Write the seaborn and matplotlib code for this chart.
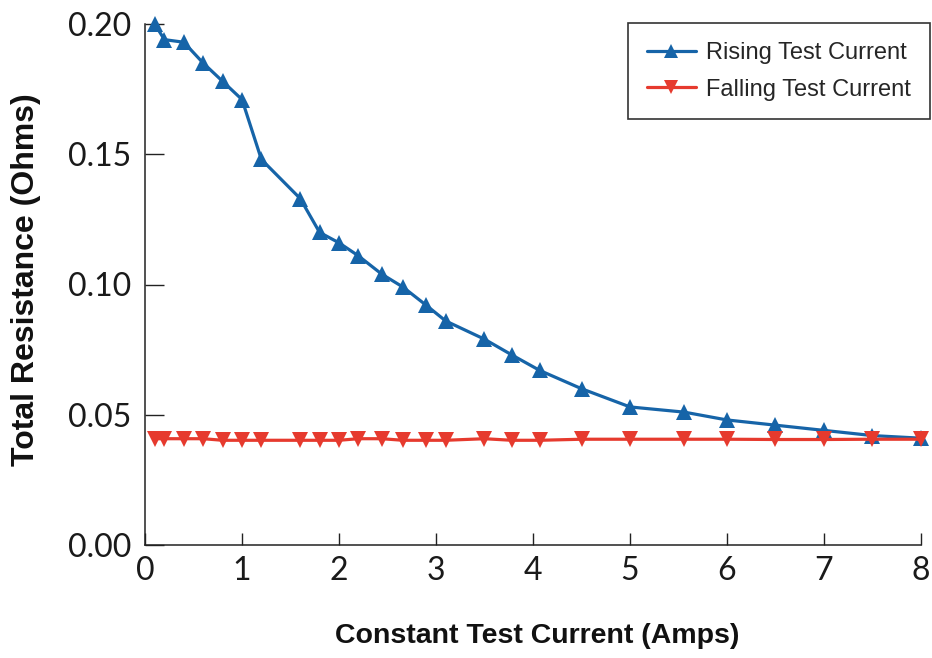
import matplotlib
matplotlib.use("Agg")
import matplotlib.pyplot as plt
import seaborn as sns
import pandas as pd
from matplotlib.lines import Line2D

# ---- data ----
rising_x = [0.1, 0.2, 0.4, 0.6, 0.8, 1.0, 1.2, 1.6, 1.8, 2.0, 2.2, 2.44, 2.66, 2.9, 3.1,
            3.5, 3.78, 4.07, 4.5, 5.0, 5.56, 6.0, 6.5, 7.0, 7.5, 8.0]
rising_y = [0.200, 0.194, 0.193, 0.185, 0.178, 0.171, 0.148, 0.133, 0.120, 0.116, 0.111,
            0.104, 0.099, 0.092, 0.086, 0.079, 0.073, 0.067, 0.060, 0.053, 0.051, 0.048,
            0.046, 0.044, 0.042, 0.041]
falling_x = [0.1, 0.2, 0.4, 0.6, 0.8, 1.0, 1.2, 1.6, 1.8, 2.0, 2.2, 2.44, 2.66, 2.9, 3.1,
             3.5, 3.78, 4.07, 4.5, 5.0, 5.56, 6.0, 6.5, 7.0, 7.5, 8.0]
falling_y = [0.0408, 0.0408, 0.0408, 0.0408, 0.0402, 0.0402, 0.0402, 0.0402, 0.0402, 0.0402,
             0.0408, 0.0408, 0.0402, 0.0402, 0.0402, 0.0408, 0.0402, 0.0402, 0.0406, 0.0406,
             0.0406, 0.0406, 0.0405, 0.0405, 0.0406, 0.0406]
series_names = ["Rising Test Current", "Falling Test Current"]
x_ticks = [0, 1, 2, 3, 4, 5, 6, 7, 8]
y_ticks = [0.00, 0.05, 0.10, 0.15, 0.20]
x_label = "Constant Test Current (Amps)"
y_label = "Total Resistance (Ohms)"

df = pd.concat([
    pd.DataFrame({"x": rising_x, "y": rising_y, "series": series_names[0]}),
    pd.DataFrame({"x": falling_x, "y": falling_y, "series": series_names[1]}),
])

blue = "#1664a8"
red = "#e63a2e"
palette = {series_names[0]: blue, series_names[1]: red}
markers = {series_names[0]: "^", series_names[1]: "v"}

sns.set_theme(style="white")
plt.rcParams["font.family"] = ["Lato", "DejaVu Sans"]

fig = plt.figure(figsize=(9.32, 6.58), dpi=100)
ax = fig.add_axes([145 / 932, 1 - 545 / 658, (921 - 145) / 932, (545 - 24) / 658])

sns.lineplot(data=df, x="x", y="y", hue="series", style="series", markers=markers,
             dashes=False, palette=palette, ax=ax, linewidth=2.3, markersize=11,
             markeredgewidth=0, legend=False, sort=False)
for line in ax.lines:
    line.set_clip_on(False)

ax.set_xlim(0, 8)
ax.set_ylim(0, 0.20)
ax.set_xticks(x_ticks)
ax.set_xticklabels([str(v) for v in x_ticks])
ax.set_yticks(y_ticks)
ax.set_yticklabels([f"{v:.2f}" for v in y_ticks])
ax.set_xlabel("")
ax.set_ylabel("")

for s in ["top", "right"]:
    ax.spines[s].set_visible(False)
for s in ["left", "bottom"]:
    ax.spines[s].set_color("#222222")
    ax.spines[s].set_linewidth(1.1)

ax.tick_params(axis="x", direction="in", length=8.6, width=1.0, color="#222222",
               pad=8, labelsize=23, labelcolor="#1a1a1a", bottom=True)
ax.tick_params(axis="y", direction="in", length=13.5, width=1.0, color="#222222",
               pad=10, labelsize=23, labelcolor="#1a1a1a", left=True)

fig.text(537 / 932, 1 - 636 / 658, x_label, ha="center", va="center",
         fontsize=20.5, fontweight="bold", family=["Liberation Sans", "DejaVu Sans"],
         color="#111111")
fig.text(26 / 932, 1 - 280 / 658, y_label, ha="center", va="center", rotation=90,
         fontsize=23, fontweight="bold", family=["Liberation Sans", "DejaVu Sans"],
         color="#111111")

handles = [
    Line2D([0], [0], color=blue, lw=2.3, marker="^", markersize=10, markeredgewidth=0),
    Line2D([0], [0], color=red, lw=2.3, marker="v", markersize=10, markeredgewidth=0),
]
leg = ax.legend(handles, series_names, loc="upper right",
                bbox_to_anchor=(930 / 932, 1 - 23 / 658), bbox_transform=fig.transFigure,
                frameon=True, fancybox=False, edgecolor="#333333", framealpha=1,
                prop={"family": ["Liberation Sans", "DejaVu Sans"], "size": 17},
                handlelength=2.05, handletextpad=0.45, borderpad=0.8, labelspacing=0.62,
                borderaxespad=0)
leg.get_frame().set_linewidth(1.2)

fig.savefig("out.png", dpi=100)
